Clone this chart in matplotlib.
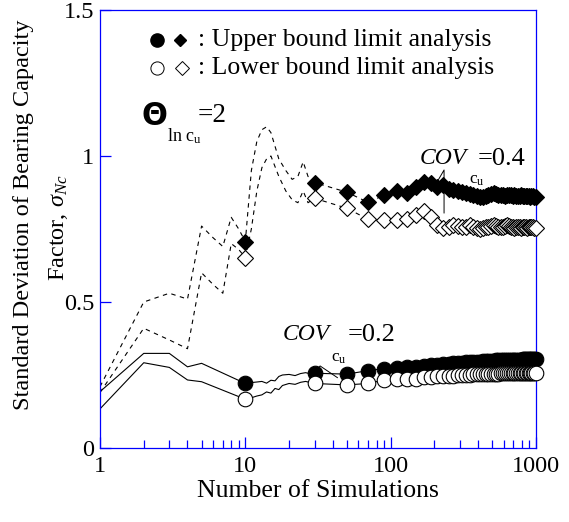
import matplotlib
matplotlib.use("Agg")
import matplotlib.pyplot as plt
from matplotlib.ticker import LogLocator, NullFormatter, FixedLocator

plt.rcParams['font.family'] = ['Liberation Serif', 'DejaVu Serif']
plt.rcParams['mathtext.fontset'] = 'custom'
plt.rcParams['mathtext.rm'] = 'Liberation Serif'
plt.rcParams['mathtext.it'] = 'Liberation Serif:italic'

# simulation counts where markers are drawn
sims_mk = [10, 30, 50, 70, 90, 110, 130, 150, 170, 190, 210, 230, 250, 270, 290,
           310, 330, 350, 370, 390, 410, 430, 450, 470, 490, 510, 530, 550, 570, 590,
           610, 630, 650, 670, 690, 710, 730, 750, 770, 790, 810, 830, 850, 870, 890,
           910, 930, 950, 970, 1000]

# COV = 0.2
ub_02 = [0.221, 0.256, 0.253, 0.265, 0.272, 0.275, 0.277, 0.279, 0.281, 0.283,
         0.285, 0.287, 0.289, 0.290, 0.291, 0.292, 0.293, 0.294, 0.295, 0.295,
         0.296, 0.297, 0.297, 0.298, 0.299, 0.299, 0.300, 0.300, 0.301, 0.301,
         0.301, 0.302, 0.302, 0.302, 0.302, 0.303, 0.303, 0.303, 0.303, 0.303,
         0.304, 0.304, 0.304, 0.304, 0.304, 0.305, 0.305, 0.305, 0.305, 0.305]
lb_02 = [0.167, 0.221, 0.216, 0.221, 0.233, 0.235, 0.237, 0.238, 0.243, 0.244,
         0.245, 0.246, 0.247, 0.248, 0.249, 0.250, 0.250, 0.251, 0.252, 0.252,
         0.253, 0.253, 0.254, 0.254, 0.254, 0.255, 0.255, 0.255, 0.256, 0.256,
         0.256, 0.256, 0.256, 0.257, 0.257, 0.257, 0.257, 0.257, 0.257, 0.257,
         0.258, 0.258, 0.258, 0.258, 0.258, 0.258, 0.258, 0.258, 0.258, 0.258]

# COV = 0.4
ub_04 = [0.707, 0.909, 0.876, 0.841, 0.866, 0.881, 0.872, 0.895, 0.912, 0.906,
         0.895, 0.900, 0.888, 0.885, 0.880, 0.876, 0.872, 0.870, 0.866, 0.862,
         0.858, 0.860, 0.864, 0.868, 0.870, 0.872, 0.870, 0.868, 0.866, 0.866,
         0.864, 0.866, 0.868, 0.866, 0.864, 0.866, 0.864, 0.862, 0.864, 0.866,
         0.864, 0.862, 0.862, 0.864, 0.862, 0.860, 0.862, 0.862, 0.860, 0.858]
lb_04 = [0.652, 0.855, 0.821, 0.783, 0.781, 0.781, 0.783, 0.798, 0.812, 0.790,
         0.765, 0.752, 0.758, 0.762, 0.760, 0.756, 0.758, 0.762, 0.758, 0.752,
         0.750, 0.752, 0.756, 0.758, 0.760, 0.762, 0.760, 0.758, 0.756, 0.758,
         0.760, 0.762, 0.760, 0.758, 0.756, 0.754, 0.756, 0.758, 0.756, 0.754,
         0.756, 0.758, 0.756, 0.754, 0.756, 0.758, 0.756, 0.756, 0.755, 0.755]

# early simulations (lines only)
sims_ln_02 = [1, 2, 3, 4, 5, 11, 12, 13, 14, 15, 16, 17, 18, 20, 22, 24, 26, 28]
ub_ln_02 = [0.193, 0.324, 0.324, 0.278, 0.290, 0.224, 0.226, 0.228, 0.222, 0.232,
            0.230, 0.245, 0.250, 0.252, 0.248, 0.255, 0.258, 0.254]
lb_ln_02 = [0.134, 0.292, 0.276, 0.233, 0.227, 0.172, 0.178, 0.182, 0.192, 0.188,
            0.204, 0.200, 0.214, 0.221, 0.218, 0.225, 0.228, 0.224]

sims_ln_04 = [1, 2, 3, 4, 5, 6, 7, 8, 9, 11, 12, 13, 14, 15, 17, 19, 21, 23, 25, 27]
ub_ln_04 = [0.21, 0.50, 0.53, 0.51, 0.76, 0.72, 0.69, 0.79, 0.75, 0.95, 1.05, 1.09,
            1.10, 1.08, 0.99, 0.95, 0.92, 0.93, 0.98, 0.93]
lb_ln_04 = [0.19, 0.41, 0.37, 0.34, 0.60, 0.56, 0.53, 0.70, 0.68, 0.75, 0.88, 0.96,
            0.99, 1.00, 0.93, 0.88, 0.85, 0.84, 0.88, 0.84]


def merged(xa, ya, xb, yb):
    pts = sorted(zip(list(xa) + list(xb), list(ya) + list(yb)))
    return [p[0] for p in pts], [p[1] for p in pts]


blue = '#0000ff'
fig = plt.figure(figsize=(5.69, 5.22), dpi=100)
ax = fig.add_axes([100 / 569, 74 / 522, 436 / 569, 438 / 522])

# lines
x, y = merged(sims_ln_02, ub_ln_02, sims_mk, ub_02)
ax.plot(x, y, color='black', lw=0.8, zorder=2)
x, y = merged(sims_ln_02, lb_ln_02, sims_mk, lb_02)
ax.plot(x, y, color='black', lw=0.8, zorder=2)
x, y = merged(sims_ln_04, ub_ln_04, sims_mk, ub_04)
ax.plot(x, y, color='black', lw=0.8, dashes=(4, 4), zorder=2)
x, y = merged(sims_ln_04, lb_ln_04, sims_mk, lb_04)
ax.plot(x, y, color='black', lw=0.8, dashes=(4, 4), zorder=2)

# markers
ax.plot(sims_mk, ub_02, 'o', ms=10.5, mfc='black', mec='black', mew=0.8, ls='none', zorder=3, clip_on=False)
ax.plot(sims_mk, lb_02, 'o', ms=10.5, mfc='white', mec='black', mew=0.8, ls='none', zorder=4, clip_on=False)
ax.plot(sims_mk, ub_04, 'D', ms=8, mfc='black', mec='black', mew=0.8, ls='none', zorder=3, clip_on=False)
ax.plot(sims_mk, lb_04, 'D', ms=8, mfc='white', mec='black', mew=0.8, ls='none', zorder=4, clip_on=False)

ax.set_xscale('log')
ax.set_xlim(1, 1000)
ax.set_ylim(0, 1.5)
ax.xaxis.set_major_locator(FixedLocator([1, 10, 100, 1000]))
ax.set_xticklabels(['1', '10', '100', '1000'])
ax.xaxis.set_minor_locator(LogLocator(base=10, subs=range(2, 10)))
ax.xaxis.set_minor_formatter(NullFormatter())
ax.set_yticks([0, 0.5, 1, 1.5])
ax.set_yticklabels(['0', '0.5', '1', '1.5'])

for s in ax.spines.values():
    s.set_color(blue)
    s.set_linewidth(0.9)
ax.tick_params(which='both', direction='in', color=blue, labelsize=17.5, width=0.9,
               top=False, right=False)
ax.tick_params(axis='x', which='major', length=8, pad=6)
ax.tick_params(axis='x', which='minor', length=5.5)
ax.tick_params(axis='y', which='major', length=7.7, pad=4)

ax.set_xlabel('Number of Simulations', fontsize=18.5, labelpad=2)
fig.text(24 / 569, 1 - 215 / 522, 'Standard Deviation of Bearing Capacity', rotation=90,
         ha='center', va='center', fontsize=17.5)
fig.text(58 / 569, 1 - 228 / 522, r'Factor, $\sigma_{\mathit{Nc}}$', rotation=90,
         ha='center', va='center', fontsize=17.5)

# legend
tA = ax.transAxes
ax.plot([0.130], [0.9315], 'o', ms=9.5, mfc='black', mec='black', transform=tA, clip_on=False)
ax.plot([0.1835], [0.9315], 'D', ms=6.5, mfc='black', mec='black', transform=tA, clip_on=False)
ax.plot([0.130], [0.8676], 'o', ms=9.5, mfc='white', mec='black', mew=0.7, transform=tA, clip_on=False)
ax.plot([0.1875], [0.8676], 'D', ms=7, mfc='white', mec='black', mew=0.7, transform=tA, clip_on=False)
ax.text(0.2255, 0.9315, ': Upper bound limit analysis', transform=tA, fontsize=18.5, va='center')
ax.text(0.2255, 0.8676, ': Lower bound limit analysis', transform=tA, fontsize=18.5, va='center')

# Theta annotation
ax.text(0.126, 0.756, '\u0398', transform=tA, fontsize=22, fontweight='bold',
        family=['DejaVu Sans'], ha='center', va='center')
ax.text(0.154, 0.712, r'$\mathrm{ln\ c_u}$', transform=tA, fontsize=13, va='center')
ax.text(0.225, 0.758, '=2', transform=tA, fontsize=19.5, va='center')

# COV labels
ax.text(0.734, 0.660, 'COV', transform=tA, fontsize=17, style='italic', va='center')
ax.text(0.865, 0.660, '=0.4', transform=tA, fontsize=19, va='center')
ax.text(0.846, 0.612, r'$\mathrm{c_u}$', transform=tA, fontsize=12.5, va='center')
ax.plot([208.6, 233, 233], [0.911, 0.952, 0.805], color='black', lw=0.7, zorder=5)

ax.text(0.420, 0.258, 'COV', transform=tA, fontsize=17, style='italic', va='center')
ax.text(0.567, 0.258, '=0.2', transform=tA, fontsize=19, va='center')
ax.text(0.530, 0.205, r'$\mathrm{c_u}$', transform=tA, fontsize=12.5, va='center')
ax.plot([28.2, 32.7, 43], [0.247, 0.281, 0.241], color='black', lw=0.7, zorder=5)

fig.savefig('out.png', dpi=100)
